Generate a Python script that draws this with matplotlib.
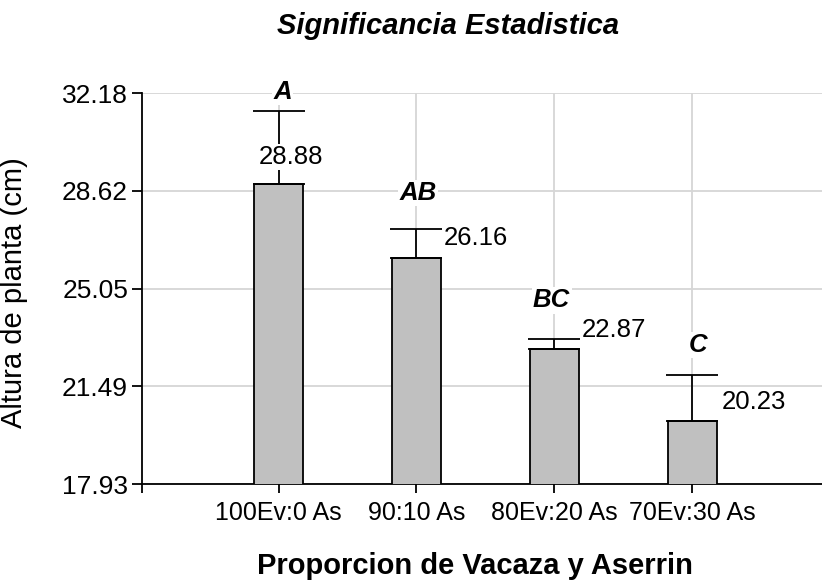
import matplotlib
matplotlib.use('Agg')
import matplotlib.pyplot as plt
import numpy             as np

plt.rcParams['font.family'] = ['Liberation Sans', 'DejaVu Sans']

# data
tratamientos = ['100Ev:0 As', '90:10 As', '80Ev:20 As', '70Ev:30 As']
medias       = [28.88, 26.16, 22.87, 20.23]
errores      = [2.65, 1.06, 0.34, 1.66]
letras       = ['A', 'AB', 'BC', 'C']
yticks       = [17.93, 21.49, 25.05, 28.62, 32.18]

# label offsets (points) from the top of each error bar
letra_off = [(3, 14), (1, 26), (-2, 28), (4, 22)]
valor_off = [(9, -33), (43, -6), (43, 7), (44, -19)]

fig = plt.figure(figsize=(8.22, 5.80), dpi=100)
ax  = fig.add_axes([142/822, 1 - 484/580, 680/822, (484 - 93.3)/580])

x = np.arange(len(tratamientos))
ax.bar(x, medias, width=0.36, color='#c0c0c0', edgecolor='black', linewidth=1.3, zorder=3)
ax.errorbar(x, medias, yerr=[np.zeros(len(errores)), errores], fmt='none',
            ecolor='black', elinewidth=1.3, capsize=19, capthick=1.3, zorder=4)

for i in range(len(x)):
	top = medias[i] + errores[i]
	ax.annotate(letras[i], xy=(x[i], top), xytext=letra_off[i], textcoords='offset points',
	            ha='center', va='center', fontsize=18.5, fontweight='bold', fontstyle='italic',
	            bbox=dict(facecolor='white', edgecolor='none', pad=1), zorder=6)
	ax.annotate('%.2f' % medias[i], xy=(x[i], top), xytext=valor_off[i], textcoords='offset points',
	            ha='center', va='center', fontsize=18.5,
	            bbox=dict(facecolor='white', edgecolor='none', pad=1), zorder=6)

ax.set_xlim(-0.99, 3.94)
ax.set_ylim(yticks[0], yticks[-1])
ax.set_yticks(yticks)
ax.set_yticklabels(['%.2f' % v for v in yticks])
ax.set_xticks(x)
ax.set_xticklabels(tratamientos)
ax.set_xticks([-0.99], minor=True)

ax.grid(True, color='#d6d6d6', linewidth=1.3, zorder=0)
ax.set_axisbelow(True)
for s in ['top', 'right']:
	ax.spines[s].set_visible(False)
for s in ['left', 'bottom']:
	ax.spines[s].set_linewidth(1.3)

ax.tick_params(axis='y', labelsize=19, length=7, width=1.3, pad=3)
ax.tick_params(axis='x', which='both', labelsize=18, length=6.5, width=1.3, pad=6)

ax.set_ylabel('Altura de planta (cm)', fontsize=21)
ax.yaxis.set_label_coords(-0.168, 0.491)
ax.set_xlabel('Proporcion de Vacaza y Aserrin', fontsize=21, fontweight='bold')
ax.xaxis.set_label_coords(0.49, -0.2304)
ax.xaxis.label.set_va('baseline')

fig.text(448/822, 1 - 26/580, 'Significancia Estadistica', ha='center', va='center',
         fontsize=21, fontweight='bold', fontstyle='italic')

plt.savefig('out.png', dpi=100)
